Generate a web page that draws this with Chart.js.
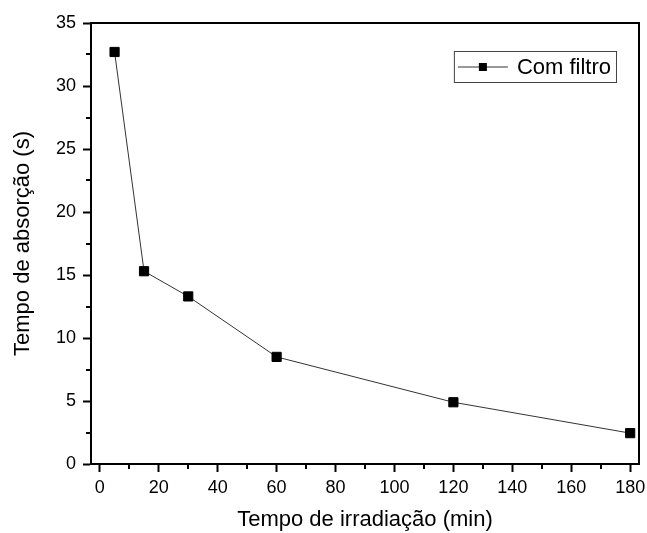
<!DOCTYPE html>
<html>
<head>
<meta charset="utf-8">
<script src="https://cdn.jsdelivr.net/npm/chart.js@4"></script>
<style>
  html, body { margin: 0; padding: 0; background: #fff; }
  #wrap { width: 647px; height: 533px; }
</style>
</head>
<body>
<div id="wrap"><canvas id="c" width="647" height="533"></canvas></div>
<script>
// ---- data ----
const irradiationMin = [5, 15, 30, 60, 120, 180];
const absorptionSec = [32.7, 15.3, 13.3, 8.5, 4.9, 2.45];
const seriesLabel = 'Com filtro';
const xTicks = [0, 20, 40, 60, 80, 100, 120, 140, 160, 180];
const xMinorTicks = [10, 30, 50, 70, 90, 110, 130, 150, 170];
const yTicks = [0, 5, 10, 15, 20, 25, 30, 35];
const yMinorTicks = [2.5, 7.5, 12.5, 17.5, 22.5, 27.5, 32.5];
const xTitle = 'Tempo de irradiação (min)';
const yTitle = 'Tempo de absorção (s)';

const FONT = '"Liberation Sans", Arial, sans-serif';

const framePlugin = {
  id: 'frame',
  afterDraw(chart) {
    const { ctx, chartArea: a, scales } = chart;
    ctx.save();
    ctx.strokeStyle = '#000';
    ctx.lineWidth = 2;
    ctx.beginPath();
    ctx.moveTo(a.left, a.top);
    ctx.lineTo(a.right, a.top);
    ctx.lineTo(a.right, a.bottom);
    ctx.stroke();
    // minor ticks
    ctx.lineWidth = 2;
    ctx.beginPath();
    xMinorTicks.forEach(v => {
      const x = Math.round(scales.x.getPixelForValue(v));
      ctx.moveTo(x, a.bottom);
      ctx.lineTo(x, a.bottom + 5);
    });
    yMinorTicks.forEach(v => {
      const y = Math.round(scales.y.getPixelForValue(v));
      ctx.moveTo(a.left, y);
      ctx.lineTo(a.left - 5, y);
    });
    ctx.stroke();

    // legend
    const ds = chart.data.datasets[0];
    ctx.font = '22px ' + FONT;
    const tw = ctx.measureText(ds.label).width;
    const h = 31;
    const w = 4 + 50 + 9 + tw + 5;
    const right = a.right - 23;
    const left = right - w;
    const top = a.top + 28;
    ctx.lineWidth = 1;
    ctx.strokeStyle = '#444';
    ctx.strokeRect(left + 0.5, top + 0.5, w, h);
    const cy = top + h / 2;
    ctx.strokeStyle = ds.borderColor;
    ctx.beginPath();
    ctx.moveTo(left + 4, cy + 0.5);
    ctx.lineTo(left + 54, cy + 0.5);
    ctx.stroke();
    ctx.fillStyle = '#000';
    ctx.fillRect(left + 29 - 4, cy - 3.5, 8, 8);
    ctx.fillStyle = '#000';
    ctx.textBaseline = 'middle';
    ctx.textAlign = 'left';
    ctx.fillText(ds.label, left + 63, cy + 1);
    ctx.restore();
  }
};

new Chart(document.getElementById('c'), {
  type: 'line',
  data: {
    datasets: [{
      label: seriesLabel,
      data: irradiationMin.map((x, i) => ({ x, y: absorptionSec[i] })),
      borderColor: '#333',
      borderWidth: 1,
      pointStyle: 'rect',
      pointRadius: 6.5,
      pointBackgroundColor: '#000',
      pointBorderColor: '#000',
      pointBorderWidth: 1,
      tension: 0,
      clip: false
    }]
  },
  options: {
    responsive: false,
    animation: false,
    layout: { padding: { left: 0, top: 23, right: 8, bottom: 0 } },
    plugins: { legend: { display: false }, tooltip: { enabled: false } },
    scales: {
      x: {
        type: 'linear',
        min: -3,
        max: 183,
        afterBuildTicks: s => { s.ticks = xTicks.map(v => ({ value: v })); },
        afterFit: s => { s.height = 69; s.paddingLeft = 0; s.paddingRight = 0; },
        grid: { drawOnChartArea: false, drawTicks: true, tickLength: 8, tickWidth: 2, tickColor: '#000', color: '#000' },
        border: { display: true, color: '#000', width: 2 },
        ticks: { color: '#000', font: { family: FONT, size: 18 }, padding: 5, maxRotation: 0 },
        title: { display: true, text: xTitle, color: '#000', font: { family: FONT, size: 22 }, padding: { top: 0, bottom: 0 } }
      },
      y: {
        type: 'linear',
        min: 0,
        max: 35,
        afterBuildTicks: s => { s.ticks = yTicks.map(v => ({ value: v })); },
        afterFit: s => { s.width = 91; s.paddingTop = 0; s.paddingBottom = 0; },
        grid: { drawOnChartArea: false, drawTicks: true, tickLength: 8, tickWidth: 2, tickColor: '#000', color: '#000' },
        border: { display: true, color: '#000', width: 2 },
        ticks: { color: '#000', font: { family: FONT, size: 18 }, padding: 7 },
        title: { display: true, text: yTitle, color: '#000', font: { family: FONT, size: 22 }, padding: { top: 10, bottom: 0 } }
      }
    }
  },
  plugins: [framePlugin]
});
</script>
</body>
</html>
